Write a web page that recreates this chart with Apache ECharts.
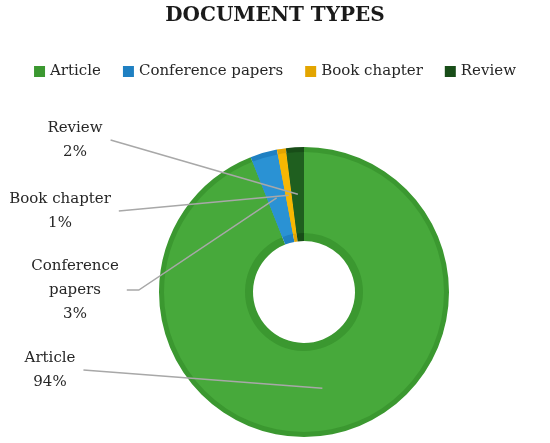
<!DOCTYPE html>
<html>
<head>
<meta charset="utf-8">
<script src="https://cdn.jsdelivr.net/npm/echarts@6/dist/echarts.min.js"></script>
<style>
  html, body { margin: 0; padding: 0; background: #fff; }
  #chart { width: 550px; height: 443px; }
</style>
</head>
<body>
<div id="chart"></div>
<script>
// data (percent of documents)
var categories = ['Article', 'Conference papers', 'Book chapter', 'Review'];
var shares = [94, 3, 1, 2];

var lightColors = ['#47a93b', '#2a92d4', '#f7b702', '#1f5f1f'];
var darkColors = ['#3b9830', '#1f80c2', '#e3a500', '#184d18'];

// where the labels sit on the left (center x, middle y)
var labelSpots = [[50, 370], [75, 290], [60, 211], [75, 140]];

var center = [304, 292];
var innerR = 51, outerR = 145;

var myChart = echarts.init(document.getElementById('chart'));

var baseData = categories.map(function (name, i) {
  return { name: name, value: shares[i], itemStyle: { color: darkColors[i] } };
});
var topData = categories.map(function (name, i) {
  return { name: name, value: shares[i], itemStyle: { color: lightColors[i] } };
});

var option = {
  animation: false,
  title: {
    text: 'DOCUMENT TYPES',
    left: 'center',
    top: 1,
    textStyle: {
      fontFamily: 'DejaVu Serif',
      fontWeight: 'bold',
      fontSize: 20,
      color: '#1a1a1a'
    }
  },
  legend: {
    data: categories,
    left: 'center',
    top: 59,
    icon: 'rect',
    itemWidth: 11,
    itemHeight: 11,
    itemGap: 22,
    textStyle: {
      fontFamily: 'DejaVu Serif',
      fontSize: 15,
      color: '#262626'
    }
  },
  series: [
    {
      type: 'pie',
      center: center,
      radius: [innerR, outerR],
      startAngle: 90,
      clockwise: true,
      data: baseData,
      label: {
        show: true,
        position: 'outside',
        formatter: function (p) {
          var name = p.name === 'Conference papers' ? 'Conference\npapers' : p.name;
          return name + '\n' + p.percent + '%';
        },
        fontFamily: 'DejaVu Serif',
        fontSize: 15,
        lineHeight: 24,
        color: '#262626',
        align: 'center'
      },
      labelLine: { show: false },
      labelLayout: function (params) {
        var spot = labelSpots[params.dataIndex];
        return { x: spot[0], y: spot[1], align: 'center', verticalAlign: 'middle' };
      },
      z: 1
    },
    {
      type: 'pie',
      center: center,
      radius: [innerR + 8, outerR - 5],
      startAngle: 90,
      clockwise: true,
      silent: true,
      data: topData,
      label: { show: false },
      labelLine: { show: false },
      z: 2
    }
  ]
};

myChart.setOption(option);

// excel style leader lines: from the label to the middle of the ring segment
var pieData = myChart.getModel().getSeriesByIndex(0).getData();
var lines = [];
categories.forEach(function (name, i) {
  var lay = pieData.getItemLayout(i);
  var mid = (lay.startAngle + lay.endAngle) / 2;
  var rm = (lay.r + lay.r0) / 2;
  var anchor = [lay.cx + Math.cos(mid) * rm, lay.cy + Math.sin(mid) * rm];
  var el = pieData.getItemGraphicEl(i);
  var txt = el && el.getTextContent();
  var w = txt ? txt.getBoundingRect().width : 60;
  var spot = labelSpots[i];
  var startX = spot[0] + w / 2 + 8;
  var pts = [[startX, spot[1]], anchor];
  if (name === 'Conference papers') {
    pts = [[startX, spot[1]], [startX + 12, spot[1]], anchor];
  }
  lines.push({
    type: 'polyline',
    silent: true,
    z: 100,
    shape: { points: pts },
    style: { stroke: '#a8a8a8', lineWidth: 1.5, fill: null }
  });
});
myChart.setOption({ graphic: lines });
</script>
</body>
</html>
